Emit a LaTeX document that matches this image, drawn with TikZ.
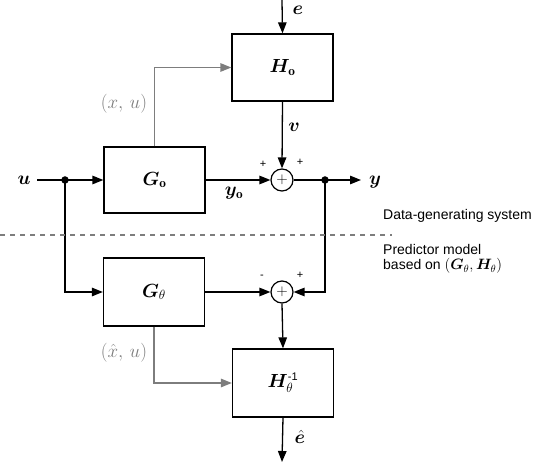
\RequirePackage{fix-cm}
\documentclass[tikz,border=0pt]{standalone}
\usepackage{amsmath,bm}
\usepackage{fontspec}
\newfontfamily\hel{Liberation Sans}
\usetikzlibrary{arrows.meta}
\definecolor{lgray}{RGB}{125,125,125}
\begin{document}
\begin{tikzpicture}[x=1pt,y=-1pt,
  blk/.style={draw, line width=1.3pt, minimum width=101pt, minimum height=67pt, inner sep=0pt, font=\fontsize{19}{21}\selectfont},
  sumnode/.style={circle, draw, line width=1.2pt, minimum size=22pt, inner sep=0pt, font=\fontsize{15}{15}\selectfont},
  sig/.style={line width=1.3pt, -{Triangle[length=11pt,width=8.5pt]}},
  graysig/.style={sig, lgray},
  plain/.style={line width=1.3pt},
  lbl/.style={font=\fontsize{19}{21}\selectfont, inner sep=0pt},
  glbl/.style={lbl, text=lgray},
  sgn/.style={font=\hel\fontsize{11}{11}\selectfont, inner sep=0pt},
  txt/.style={font=\hel\fontsize{14}{16}\selectfont, anchor=base west, inner sep=0pt},
  dotn/.style={circle, fill, inner sep=0pt, minimum size=7.5pt}
]
\useasboundingbox (0,0) rectangle (542,462);

% blocks
\node[blk] (Ho) at (282.5,67.5) {$\bm{H}_{\mathbf{o}}$};
\node[blk, minimum height=66pt] (Go) at (154.5,180) {$\bm{G}_{\mathbf{o}}$};
\node[blk, minimum height=68pt] (Gt) at (154,292) {$\bm{G}_{\theta}$};
\node[blk, minimum height=68pt] (Ht) at (283,383) {$\bm{H}_{\theta}^{\text{\hel\fontsize{11}{11}\selectfont -1}}$};

% summing junctions
\node[sumnode] (s1) at (282,180) {$+$};
\node[sumnode] (s2) at (282,292) {$+$};

% branch points
\node[dotn] (d1) at (65,180) {};
\node[dotn] (d2) at (325,180) {};

% free ends
\coordinate (etop) at (282,0);
\coordinate (ustart) at (37,180);
\coordinate (yend) at (361,180);
\coordinate (ehatend) at (282,462);
\coordinate (dashL) at (0,235);
\coordinate (dashR) at (392,235);

% connectors
\draw[sig] (etop) -- (Ho.north);
\draw[sig] (Ho.south) -- (s1.north);
\draw[plain] (ustart) -- (d1.center);
\draw[sig] (d1.center) -- (Go.west);
\draw[sig] (Go.east) -- (s1.west);
\draw[plain] (s1.east) -- (d2.center);
\draw[sig] (d2.center) -- (yend);
\draw[sig] (d1.center) |- (Gt.west);
\draw[sig] (d2.center) |- (s2.east);
\draw[sig] (Gt.east) -- (s2.west);
\draw[sig] (s2.south) -- (Ht.north);
\draw[sig] (Ht.south) -- (ehatend);
\draw[graysig] (Go.north) |- (Ho.west);
\draw[graysig] (Gt.south) |- (Ht.west);

% dashed separator
\draw[lgray, line width=1.2pt, dash pattern=on 5pt off 5pt] (dashL) -- (dashR);

% labels
\node[lbl] (le) at (298,10) {$\bm{e}$};
\node[lbl] (lv) at (294,127) {$\bm{v}$};
\node[lbl] (lu) at (24,180) {$\bm{u}$};
\node[lbl] (lyo) at (234,193) {$\bm{y}_{\mathbf{o}}$};
\node[lbl] (ly) at (375,182) {$\bm{y}$};
\node[lbl] (leh) at (300,437) {$\hat{\bm{e}}$};
\node[glbl] (lxu) at (124,104) {$(x,\,u)$};
\node[glbl] (lxhu) at (124,353) {$(\hat{x},\,u)$};

\node[sgn] (p1) at (263,164) {+};
\node[sgn] (p2) at (300,162) {+};
\node[sgn] (m3) at (262,277) {-};
\node[sgn] (p4) at (300,275) {+};

\node[txt] (t1) at (383,220) {Data-generating system};
\node[txt] (t2) at (383,255) {Predictor model};
\node[txt] (t3) at (383,270) {based on \fontsize{15}{16}\selectfont$(\bm{G}_{\theta},\bm{H}_{\theta})$};
\end{tikzpicture}
\end{document}
